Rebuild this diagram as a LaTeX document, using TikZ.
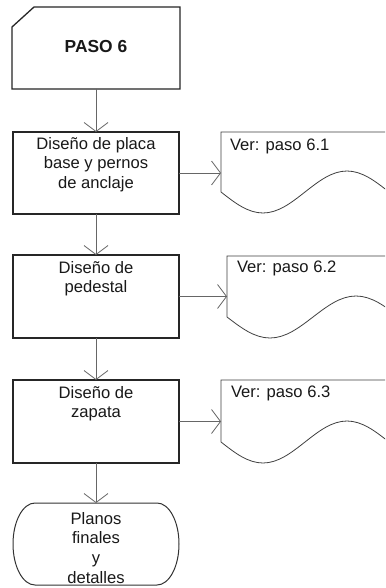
\documentclass[tikz,border=0pt]{standalone}
\usepackage{fontspec}
\setmainfont{Liberation Sans}
\usetikzlibrary{arrows.meta}
\begin{document}
\begin{tikzpicture}[x=1pt,y=-1pt,
  every node/.style={inner sep=0pt,outer sep=0pt},
  txt/.style={font=\fontsize{16.6}{19.7}\selectfont,text=black!90,align=center},
  frame/.style={draw=none,minimum width=166pt,minimum height=82pt},
  outline/.style={draw=black!85,line width=1.3pt,line join=miter},
  docline/.style={draw=black!75,line width=0.8pt},
  conn/.style={draw=black!60,line width=0.8pt,-{Straight Barb[length=9pt,width=24pt,line width=0.8pt]}}
]
\useasboundingbox (0,0) rectangle (385,588);
\clip (0,0) rectangle (385,588);
\fill[white] (0,0) rectangle (385,588);

% PASO 6 (chamfered)
\node[draw=none,minimum width=168pt,minimum height=82pt] (p6) at (96,48) {};
\draw[outline] ([yshift=-20pt]p6.north west) -- ([xshift=22pt]p6.north west) -- (p6.north east) -- (p6.south east) -- (p6.south west) -- cycle;
\node[txt,font=\fontsize{17.4}{19.7}\selectfont\bfseries] (p6t) at ([yshift=1pt]p6.center) {PASO 6};

% process boxes
\node[frame] (b1) at (96,173) {};
\node[frame,minimum height=83pt] (b2) at (96,296.5) {};
\node[frame,minimum height=83pt] (b3) at (96,421.5) {};
\foreach \b in {b1,b2,b3} \draw[outline] (\b.north west) rectangle (\b.south east);
\node[txt,anchor=north] (b1t) at ([yshift=-5pt]b1.north) {Diseño de placa\\base y pernos\\de anclaje};
\node[txt,anchor=north] (b2t) at ([yshift=-6pt]b2.north) {Diseño de\\pedestal};
\node[txt,anchor=north] (b3t) at ([yshift=-6pt]b3.north) {Diseño de\\zapata};

% terminal
\node[frame] (t) at (96,544) {};
\draw[outline,line width=1pt,draw=black!80] ([xshift=22pt]t.north west) -- ([xshift=-22pt]t.north east)
  .. controls +(12.15,0) and +(0,-22.64) .. (t.east)
  .. controls +(0,22.64) and +(12.15,0) .. ([xshift=-22pt]t.south east)
  -- ([xshift=22pt]t.south west)
  .. controls +(-12.15,0) and +(0,22.64) .. (t.west)
  .. controls +(0,-22.64) and +(-12.15,0) .. cycle;
\node[txt,anchor=north] (tt) at ([yshift=-9pt]t.north) {Planos\\finales\\y\\detalles};

% documents
\node[draw=none,minimum width=168pt,minimum height=60pt] (d1) at (305,162) {};
\node[draw=none,minimum width=172pt,minimum height=61pt] (d2) at (313,286.5) {};
\node[draw=none,minimum width=168pt,minimum height=62pt] (d3) at (305,411) {};
\draw[docline] (d1.south west) -- (d1.north west) -- (d1.north east) -- (d1.south east)
  sin ++(-42,-21) cos ++(-42,21) sin ++(-42,21) cos ++(-42,-21);
\draw[docline] (d2.south west) -- (d2.north west) -- (d2.north east) -- (d2.south east)
  sin ++(-43,-21) cos ++(-43,21) sin ++(-43,21) cos ++(-43,-21);
\draw[docline] (d3.south west) -- (d3.north west) -- (d3.north east) -- (d3.south east)
  sin ++(-42,-21) cos ++(-42,21) sin ++(-42,21) cos ++(-42,-21);
\node[txt,anchor=north west] (d1t) at ([xshift=9pt,yshift=-7pt]d1.north west) {Ver: paso 6.1};
\node[txt,anchor=north west] (d2t) at ([xshift=10pt,yshift=-5pt]d2.north west) {Ver: paso 6.2};
\node[txt,anchor=north west] (d3t) at ([xshift=10pt,yshift=-6pt]d3.north west) {Ver: paso 6.3};

% connectors
\draw[conn] (p6.south) -- (b1.north);
\draw[conn] (b1.south) -- (b2.north);
\draw[conn] (b2.south) -- (b3.north);
\draw[conn] (b3.south) -- (t.north);
\draw[conn] (b1.east) -- (b1.east -| d1.west);
\draw[conn] (b2.east) -- (b2.east -| d2.west);
\draw[conn] (b3.east) -- (b3.east -| d3.west);
\end{tikzpicture}
\end{document}
